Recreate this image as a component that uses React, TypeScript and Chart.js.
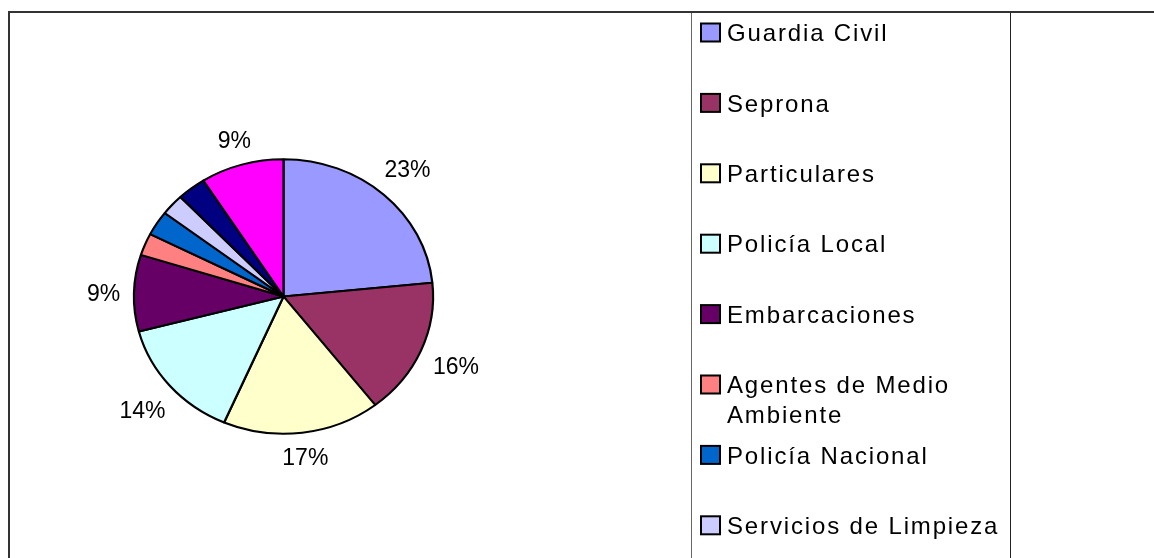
import React, { useEffect, useRef } from "react";
import { Chart, registerables } from "chart.js";

Chart.register(...registerables);

// ---- data ----
const categories = [
  "Guardia Civil",
  "Seprona",
  "Particulares",
  "Policía Local",
  "Embarcaciones",
  "Agentes de Medio Ambiente",
  "Policía Nacional",
  "Servicios de Limpieza",
  "Ayuntamiento",
  "Otros",
];
const values = [23.4, 16.1, 17.0, 14.4, 9.0, 2.6, 2.9, 2.5, 3.1, 9.0];
const sliceColors = [
  "#9999FF",
  "#993366",
  "#FFFFCC",
  "#CCFFFF",
  "#660066",
  "#FF8080",
  "#0066CC",
  "#CCCCFF",
  "#000080",
  "#FF00FF",
];
const minLabelPct = 5;

// ---- layout / style ----
const W = 1154;
const H = 558;
const FONT = '"Liberation Sans", Arial, Helvetica, sans-serif';
const PIE_CX = 283.5;
const PIE_R = 137.3;
const X_SCALE = 1.0896;

const framePlugin = {
  id: "frame",
  beforeDraw(chart: any) {
    const ctx = chart.ctx;
    ctx.save();
    ctx.fillStyle = "#ffffff";
    ctx.fillRect(0, 0, W, H);
    ctx.fillStyle = "#333333";
    ctx.fillRect(8, 11, W - 8, 2);
    ctx.fillRect(8, 11, 2, H - 11);
    ctx.fillStyle = "#666666";
    ctx.fillRect(691, 13, 1, H - 13);
    ctx.fillStyle = "#222222";
    ctx.fillRect(1010, 13, 1, H - 13);
    ctx.restore();
  },
};

const ellipsePlugin = {
  id: "ellipse",
  beforeDatasetsDraw(chart: any) {
    const ctx = chart.ctx;
    const arc = chart.getDatasetMeta(0).data[0];
    const cx = arc ? arc.x : PIE_CX;
    ctx.save();
    ctx.translate(cx, 0);
    ctx.scale(X_SCALE, 1);
    ctx.translate(-cx, 0);
  },
  afterDatasetsDraw(chart: any) {
    chart.ctx.restore();
  },
};

function wrapText(ctx: CanvasRenderingContext2D, text: string, maxWidth: number) {
  const words = text.split(" ");
  const lines: string[] = [];
  let cur = "";
  for (const w of words) {
    const test = cur ? cur + " " + w : w;
    if (cur && ctx.measureText(test).width > maxWidth) {
      lines.push(cur);
      cur = w;
    } else {
      cur = test;
    }
  }
  if (cur) lines.push(cur);
  return lines;
}

const labelsPlugin = {
  id: "labelsAndLegend",
  afterDraw(chart: any) {
    const ctx = chart.ctx;
    const meta = chart.getDatasetMeta(0);
    const data = chart.data.datasets[0].data as number[];
    const total = data.reduce((a, b) => a + b, 0);

    // pie percentage labels
    ctx.save();
    ctx.font = `23px ${FONT}`;
    ctx.fillStyle = "#000000";
    ctx.textAlign = "center";
    ctx.textBaseline = "alphabetic";
    const hh = 8.3;
    const gap = 12.5;
    meta.data.forEach((arc: any, i: number) => {
      const pct = (data[i] / total) * 100;
      if (pct < minLabelPct) return;
      const p = arc.getProps(["x", "y", "startAngle", "endAngle", "outerRadius"], true);
      const a = (p.startAngle + p.endAngle) / 2;
      const c = Math.cos(a);
      const s = Math.sin(a);
      const R = p.outerRadius + 1;
      const text = Math.round(pct) + "%";
      const hw = ctx.measureText(text).width / 2;
      const ex = p.x + c * R * X_SCALE;
      const ey = p.y + s * R;
      const d = gap + hw * Math.abs(c) + hh * Math.abs(s);
      const tx = ex + c * d;
      const ty = ey + s * d;
      ctx.fillText(text, tx, ty + hh);
    });
    ctx.restore();

    // legend
    ctx.save();
    ctx.font = `24px ${FONT}`;
    (ctx as any).letterSpacing = "1.85px";
    ctx.textAlign = "left";
    ctx.textBaseline = "alphabetic";
    const labels = chart.data.labels as string[];
    const colors = chart.data.datasets[0].backgroundColor as string[];
    labels.forEach((lab, i) => {
      const cc = 32.5 + i * 70.4;
      ctx.fillStyle = "#000000";
      ctx.fillRect(700, cc - 10, 21, 20);
      ctx.fillStyle = colors[i];
      ctx.fillRect(702, cc - 8, 17, 16);
      ctx.fillStyle = "#000000";
      const lines = wrapText(ctx, lab, 280);
      lines.forEach((ln, j) => {
        ctx.fillText(ln, 727, cc + 8.7 + j * 30);
      });
    });
    ctx.restore();
  },
};

export default function App() {
  const canvasRef = useRef<HTMLCanvasElement | null>(null);

  useEffect(() => {
    if (!canvasRef.current) return;
    const chart = new Chart(canvasRef.current, {
      type: "pie",
      data: {
        labels: categories,
        datasets: [
          {
            data: values,
            backgroundColor: sliceColors,
            borderColor: "#000000",
            borderWidth: 2,
            radius: PIE_R,
          } as any,
        ],
      },
      options: {
        animation: false,
        responsive: false,
        devicePixelRatio: 1,
        layout: {
          padding: { left: 0, right: W - 2 * PIE_CX, top: 35, bottom: 0 },
        },
        plugins: {
          legend: { display: false },
          tooltip: { enabled: false },
        },
        events: [],
      } as any,
      plugins: [framePlugin, ellipsePlugin, labelsPlugin],
    });
    return () => chart.destroy();
  }, []);

  return (
    <div
      style={{
        position: "fixed",
        left: 0,
        top: 0,
        width: W,
        height: H,
        overflow: "hidden",
        background: "#ffffff",
      }}
    >
      <canvas ref={canvasRef} width={W} height={H} style={{ display: "block" }} />
    </div>
  );
}
